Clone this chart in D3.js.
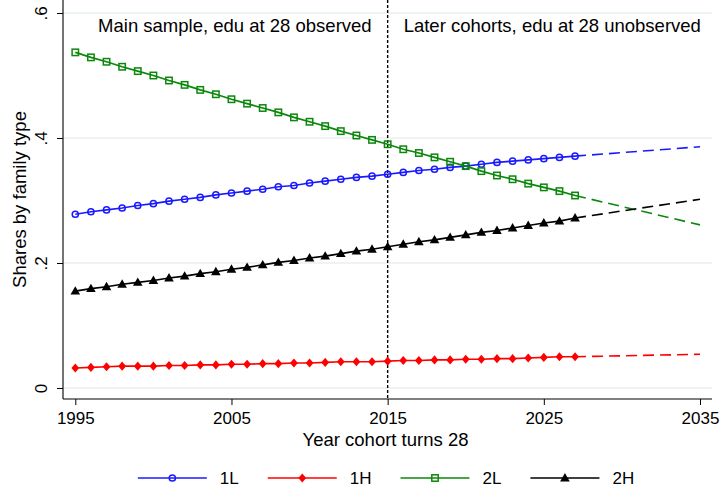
<!DOCTYPE html>
<html>
<head>
<meta charset="utf-8">
<script src="https://cdn.jsdelivr.net/npm/d3@7"></script>
<style>
  html, body { margin: 0; padding: 0; background: #fff; }
  svg { display: block; font-family: "Liberation Sans", Arial, sans-serif; }
</style>
</head>
<body>
<svg id="chart" width="720" height="493"></svg>
<script>
// Cohort years (year each cohort turns 28), observed / estimated range
const years = [1995, 1996, 1997, 1998, 1999, 2000, 2001, 2002, 2003, 2004, 2005,
               2006, 2007, 2008, 2009, 2010, 2011, 2012, 2013, 2014, 2015,
               2016, 2017, 2018, 2019, 2020, 2021, 2022, 2023, 2024, 2025, 2026, 2027];

// Shares by family type
const share1L = [0.278, 0.282, 0.285, 0.288, 0.292, 0.295, 0.299, 0.302, 0.305, 0.309, 0.312,
                 0.315, 0.318, 0.322, 0.324, 0.328, 0.331, 0.334, 0.337, 0.339, 0.342,
                 0.345, 0.348, 0.350, 0.353, 0.355, 0.358, 0.361, 0.363, 0.365, 0.367, 0.369, 0.371];
const share1H = [0.032, 0.033, 0.034, 0.035, 0.035, 0.035, 0.036, 0.036, 0.037, 0.037, 0.038,
                 0.038, 0.039, 0.039, 0.040, 0.040, 0.041, 0.042, 0.042, 0.042, 0.043,
                 0.044, 0.044, 0.045, 0.045, 0.046, 0.046, 0.047, 0.047, 0.048, 0.049, 0.050, 0.050];
const share2L = [0.537, 0.529, 0.522, 0.514, 0.507, 0.500, 0.492, 0.485, 0.477, 0.470, 0.462,
                 0.455, 0.448, 0.441, 0.433, 0.426, 0.419, 0.411, 0.404, 0.397, 0.390,
                 0.382, 0.376, 0.369, 0.362, 0.355, 0.347, 0.340, 0.334, 0.327, 0.321, 0.315, 0.308];
const share2H = [0.155, 0.159, 0.162, 0.166, 0.169, 0.172, 0.176, 0.179, 0.183, 0.186, 0.190,
                 0.193, 0.197, 0.201, 0.204, 0.208, 0.211, 0.215, 0.219, 0.222, 0.226,
                 0.230, 0.234, 0.237, 0.241, 0.245, 0.249, 0.252, 0.256, 0.260, 0.264, 0.267, 0.272];

// Linear projection for later cohorts
const projYears = [2027, 2035];
const proj1L = [0.371, 0.386];
const proj1H = [0.050, 0.054];
const proj2L = [0.308, 0.261];
const proj2H = [0.272, 0.302];

const seriesNames = ["1L", "1H", "2L", "2H"];
const xTicks = [1995, 2005, 2015, 2025, 2035];
const yTicks = [0, 0.2, 0.4, 0.6];
const yTickLabels = ["0", ".2", ".4", ".6"];
const splitYear = 2015;
const leftNote = "Main sample, edu at 28 observed";
const rightNote = "Later cohorts, edu at 28 unobserved";
const xTitle = "Year cohort turns 28";
const yTitle = "Shares by family type";

const series = [
  { name: seriesNames[0], values: share1L, proj: proj1L, color: "#1a1aff", marker: "circle" },
  { name: seriesNames[1], values: share1H, proj: proj1H, color: "#ff0000", marker: "diamond" },
  { name: seriesNames[2], values: share2L, proj: proj2L, color: "#0b870b", marker: "square" },
  { name: seriesNames[3], values: share2H, proj: proj2H, color: "#000000", marker: "triangle" }
];

const svg = d3.select("#chart");

// plot region
const plot = { left: 63, right: 712, top: 0, bottom: 399 };
const x = d3.scaleLinear().domain([1995, 2035]).range([75.3, 700]);
const y = d3.scaleLinear().domain([0, 0.6]).range([388, 13]);

// grid
svg.append("g").selectAll("line").data(yTicks).join("line")
  .attr("x1", plot.left).attr("x2", plot.right)
  .attr("y1", d => y(d)).attr("y2", d => y(d))
  .attr("stroke", "#e8f0f1").attr("stroke-width", 1.4);

// axes
const yAxis = d3.axisLeft(y).tickValues(yTicks)
  .tickFormat((d, i) => yTickLabels[i]).tickSize(6).tickSizeOuter(0);
const gy = svg.append("g").attr("transform", `translate(${plot.left},0)`).call(yAxis);
gy.select(".domain").remove();
gy.selectAll(".tick line").attr("stroke", "#000").attr("stroke-width", 1);
gy.selectAll(".tick text")
  .attr("x", null).attr("dy", null)
  .attr("transform", "translate(-16,0) rotate(-90)")
  .attr("text-anchor", "middle")
  .attr("font-size", 17).attr("fill", "#000")
  .style("font-family", "'Liberation Sans', Arial, sans-serif");

const xAxis = d3.axisBottom(x).tickValues(xTicks).tickFormat(d3.format("d"))
  .tickSize(6).tickSizeOuter(0);
const gx = svg.append("g").attr("transform", `translate(0,${plot.bottom})`).call(xAxis);
gx.select(".domain").remove();
gx.selectAll(".tick line").attr("stroke", "#000").attr("stroke-width", 1);
gx.selectAll(".tick text")
  .attr("y", 25).attr("dy", null)
  .attr("font-size", 17).attr("fill", "#000")
  .style("font-family", "'Liberation Sans', Arial, sans-serif");

svg.append("line")
  .attr("x1", plot.left).attr("x2", plot.left)
  .attr("y1", plot.top).attr("y2", plot.bottom)
  .attr("stroke", "#000").attr("stroke-width", 1.1);
svg.append("line")
  .attr("x1", plot.left).attr("x2", plot.right)
  .attr("y1", plot.bottom).attr("y2", plot.bottom)
  .attr("stroke", "#000").attr("stroke-width", 1.1);

// axis titles
svg.append("text")
  .attr("x", (plot.left + plot.right) / 2 - 2).attr("y", 445.5)
  .attr("text-anchor", "middle").attr("font-size", 18.5).text(xTitle);
svg.append("text")
  .attr("transform", `translate(26,${(plot.top + plot.bottom) / 2}) rotate(-90)`)
  .attr("text-anchor", "middle").attr("font-size", 18.5).text(yTitle);

// split between observed and later cohorts
svg.append("line")
  .attr("x1", x(splitYear)).attr("x2", x(splitYear))
  .attr("y1", plot.top).attr("y2", plot.bottom)
  .attr("stroke", "#000").attr("stroke-width", 1.4)
  .attr("stroke-dasharray", "3,2");

svg.append("text")
  .attr("x", x(splitYear) - 16).attr("y", 31.5)
  .attr("text-anchor", "end").attr("font-size", 18.5).text(leftNote);
svg.append("text")
  .attr("x", x(splitYear) + 16).attr("y", 31.5)
  .attr("text-anchor", "start").attr("font-size", 18.5).text(rightNote);

// markers
function drawMarker(g, type, color, cx, cy) {
  if (type === "circle") {
    g.append("circle").attr("cx", cx).attr("cy", cy).attr("r", 3.1)
      .attr("fill", "none").attr("stroke", color).attr("stroke-width", 1.5);
  } else if (type === "diamond") {
    g.append("path")
      .attr("d", `M${cx},${cy - 4.6}L${cx + 3.9},${cy}L${cx},${cy + 4.6}L${cx - 3.9},${cy}Z`)
      .attr("fill", color);
  } else if (type === "square") {
    g.append("rect").attr("x", cx - 3.2).attr("y", cy - 3.2)
      .attr("width", 6.4).attr("height", 6.4)
      .attr("fill", "none").attr("stroke", color).attr("stroke-width", 1.5);
  } else {
    g.append("path")
      .attr("d", `M${cx},${cy - 5}L${cx + 4.8},${cy + 3.4}L${cx - 4.8},${cy + 3.4}Z`)
      .attr("fill", color);
  }
}

const line = d3.line().x(d => x(d[0])).y(d => y(d[1]));

const gSeries = svg.append("g");
series.forEach(s => {
  const pts = years.map((yr, i) => [yr, s.values[i]]);
  const proj = projYears.map((yr, i) => [yr, s.proj[i]]);
  gSeries.append("path").datum(proj).attr("d", line)
    .attr("fill", "none").attr("stroke", s.color).attr("stroke-width", 1.6)
    .attr("stroke-dasharray", "11,6");
  gSeries.append("path").datum(pts).attr("d", line)
    .attr("fill", "none").attr("stroke", s.color).attr("stroke-width", 1.6);
  const gm = gSeries.append("g");
  pts.forEach(p => drawMarker(gm, s.marker, s.color, x(p[0]), y(p[1])));
});

// legend
const legY = 478;
const keyLen = 69, keyGap = 13, itemGap = 29;
const legend = svg.append("g");
const labels = series.map(s => {
  const t = legend.append("text").attr("font-size", 17).attr("y", legY + 6.3).text(s.name);
  return { s, t, w: t.node().getComputedTextLength() };
});
const total = d3.sum(labels, d => keyLen + keyGap + d.w) + itemGap * (labels.length - 1);
let cx0 = 386 - total / 2;
labels.forEach(d => {
  legend.append("line")
    .attr("x1", cx0).attr("x2", cx0 + keyLen)
    .attr("y1", legY).attr("y2", legY)
    .attr("stroke", d.s.color).attr("stroke-width", 1.6);
  drawMarker(legend, d.s.marker, d.s.color, cx0 + keyLen / 2, legY);
  d.t.attr("x", cx0 + keyLen + keyGap);
  cx0 += keyLen + keyGap + d.w + itemGap;
});
</script>
</body>
</html>
